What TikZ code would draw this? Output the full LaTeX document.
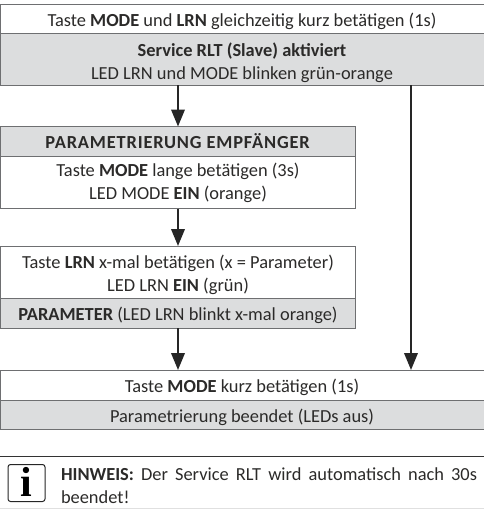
\documentclass[tikz,border=0pt]{standalone}
\usepackage{fontspec}
\setmainfont{Carlito}
\newfontfamily\iconfont{Liberation Serif}[Scale=1]
\usetikzlibrary{arrows.meta}
\definecolor{boxgray}{HTML}{DCDDDE}
\definecolor{edgegray}{HTML}{6E6F71}
\definecolor{inktext}{HTML}{2B2A29}
\newcommand{\lowr}{\rule{0pt}{19pt}}
\tikzset{
  x=1pt,y=-1pt,
  every node/.style={font=\fontsize{18.4}{20}\selectfont,text=inktext,align=center,inner sep=0pt,outer sep=0pt},
  plainbox/.style={draw=edgegray,line width=1pt,fill=white,minimum height=#1},
  graybox/.style={draw=edgegray,line width=1pt,fill=boxgray,minimum height=#1},
  wide/.style={minimum width=484},
  narrow/.style={minimum width=355},
  flow/.style={draw=black!85,line width=2.1pt,-{Triangle[length=17pt,width=13.5pt]},shorten >=0pt},
}
\begin{document}
\begin{tikzpicture}
\useasboundingbox (0,0) rectangle (484,509);
\node[plainbox=28.5,wide] (a) at (242,18.75) {\lowr Taste \textbf{MODE} und \textbf{LRN} gleichzeitig kurz betätigen (1s)};
\node[graybox=52,wide] (b) at (242,59) {\rule{0pt}{22pt}\textbf{Service RLT (Slave) aktiviert}\\[3pt]LED LRN und MODE blinken grün-orange};
\node[graybox=30,narrow] (c) at (178,141.5) {\rule{0pt}{15pt}\textbf{\addfontfeature{LetterSpace=4.5}PARAMETRIERUNG EMPFÄNGER}};
\node[plainbox=52,narrow] (d) at (178,182.5) {\rule{0pt}{15pt}Taste \textbf{MODE} lange betätigen (3s)\\[3pt]LED MODE \textbf{EIN} (orange)};
\node[plainbox=52,narrow] (e) at (178,272) {\lowr Taste \textbf{LRN} x-mal betätigen (x = Parameter)\\[2.5pt]LED LRN \textbf{EIN} (grün)};
\node[graybox=30,narrow] (f) at (178,313) {\lowr\textbf{PARAMETER} (LED LRN blinkt x-mal orange)};
\node[plainbox=30,wide] (g) at (242,385) {\lowr Taste \textbf{MODE} kurz betätigen (1s)};
\node[graybox=29.5,wide] (h) at (242,414.75) {\lowr Parametrierung beendet (LEDs aus)};
\coordinate (bx) at (411,85);
\coordinate (gx) at (411,370);
\draw[flow] (b.south -| c.north) -- (c.north);
\draw[flow] (d.south) -- (e.north);
\draw[flow] (f.south) -- (f.south |- g.north);
\draw[flow] (bx) -- (gx);
\coordinate (r1a) at (0,456.5);
\coordinate (r1b) at (484,456.5);
\coordinate (r2a) at (0,508);
\coordinate (r2b) at (484,508);
\draw[black!80,line width=.9pt] (r1a) -- (r1b);
\draw[black!12,line width=.9pt] (r2a) -- (r2b);
\node[draw=black!85,line width=1pt,rounded corners=2.5pt,minimum width=37,minimum height=37,fill=white] (icon) at (26.5,483) {};
\node[font={\iconfont\bfseries\fontsize{42}{42}\selectfont},text=black] (ii) at (26.5,482) {i};
\node[text width=416,align=justify,anchor=north west,font=\fontsize{18.4}{23}\selectfont] (note) at (61,468) {\textbf{HINWEIS:} Der Service RLT wird automatisch nach 30s\linebreak beendet!};
\end{tikzpicture}
\end{document}
